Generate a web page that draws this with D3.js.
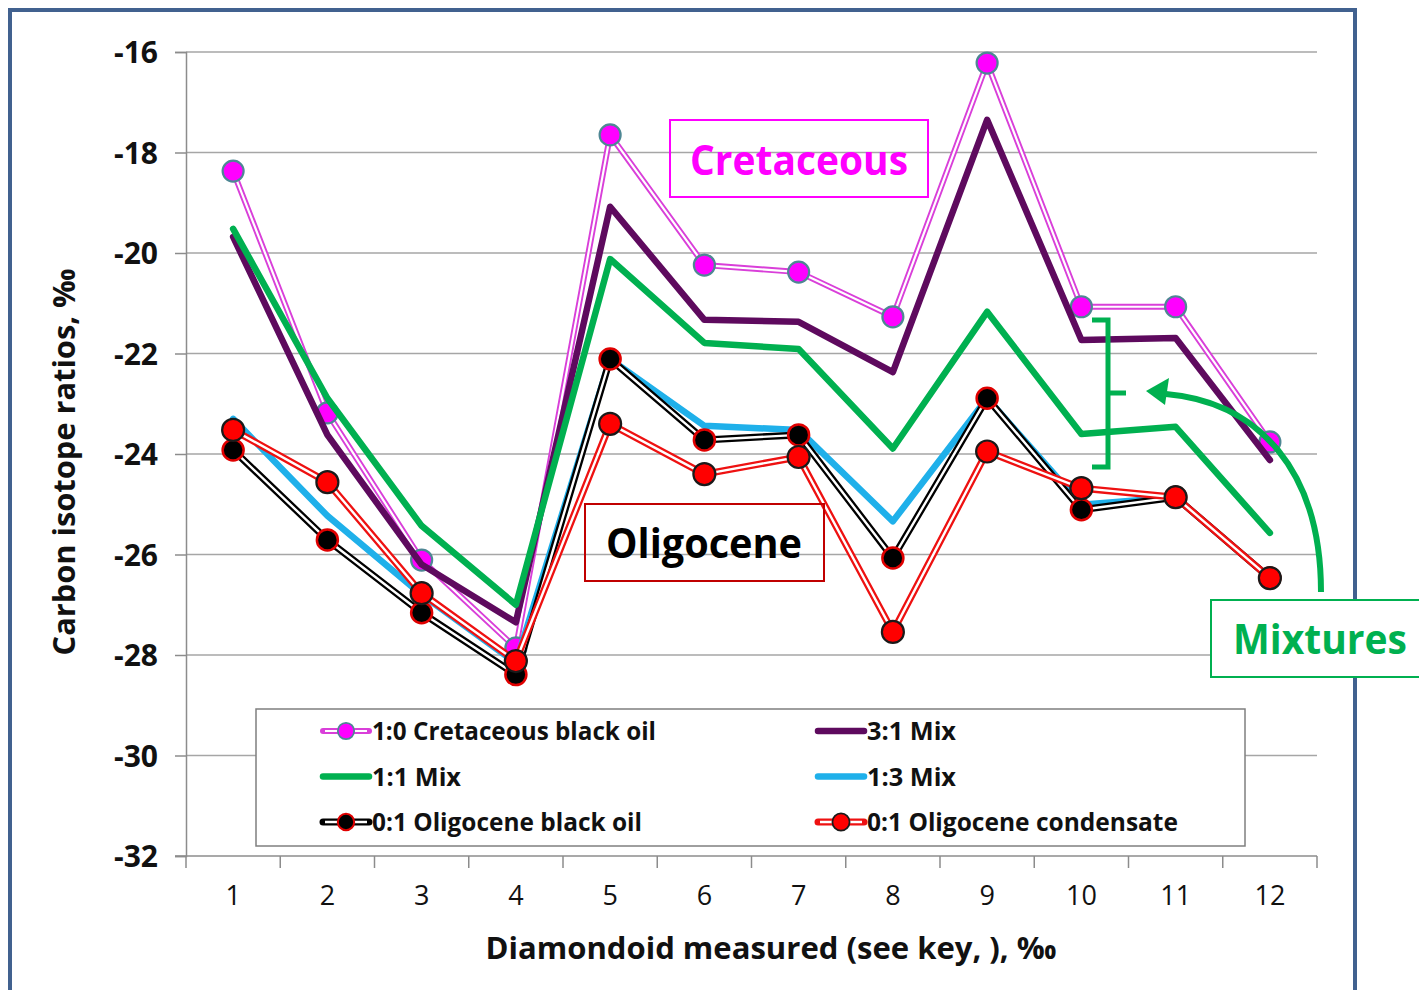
<!DOCTYPE html>
<html><head><meta charset="utf-8">
<script src="https://cdn.jsdelivr.net/npm/d3@7"></script>
<style>body{margin:0;background:#fff}svg{display:block}</style>
</head><body>
<svg id="chart" width="1419" height="990"></svg>
<script>
// ---------------- DATA ----------------
const categories = [1, 2, 3, 4, 5, 6, 7, 8, 9, 10, 11, 12];
const yTickValues = [-16, -18, -20, -22, -24, -26, -28, -30, -32];
const seriesNames = ["1:0 Cretaceous black oil", "3:1 Mix", "1:1 Mix", "1:3 Mix",
                     "0:1 Oligocene black oil", "0:1 Oligocene condensate"];
const cretaceousBlackOil   = [-18.37, -23.18, -26.11, -27.86, -17.65, -20.24, -20.38, -21.27, -16.22, -21.07, -21.07, -23.76];
const mix3to1              = [-19.68, -23.62, -26.20, -27.35, -19.08, -21.33, -21.37, -22.37, -17.35, -21.73, -21.69, -24.12];
const mix1to1              = [-19.52, -22.89, -25.43, -27.00, -20.12, -21.79, -21.91, -23.89, -21.17, -23.60, -23.46, -25.57];
const mix1to3              = [-23.30, -25.23, -26.80, -28.16, -22.11, -23.44, -23.52, -25.34, -22.89, -25.01, -24.86, -26.47];
const oligoceneBlackOil    = [-23.92, -25.71, -27.16, -28.39, -22.11, -23.72, -23.62, -26.07, -22.89, -25.11, -24.86, -26.47];
const oligoceneCondensate  = [-23.52, -24.56, -26.77, -28.12, -23.40, -24.40, -24.06, -27.54, -23.95, -24.68, -24.86, -26.47];
const xTitle = "Diamondoid measured (see key, ), ‰";
const yTitle = "Carbon isotope ratios, ‰";

// ---------------- STYLES ----------------
const styles = [
  {outer: "#d93fd9", outerW: 6, inner: "#ffffff", innerW: 2.2, marker: {fill: "#ff00ff", stroke: "#4e8794", sw: 2.2, r: 10.5}},
  {outer: "#5e0a5e", outerW: 6.5},
  {outer: "#00b050", outerW: 6.5},
  {outer: "#1fb0ea", outerW: 6.5},
  {outer: "#000000", outerW: 7, inner: "#ffffff", innerW: 2.4, marker: {fill: "#000000", stroke: "#e00000", sw: 2.5, r: 10.5}},
  {outer: "#ee1111", outerW: 7, inner: "#ffffff", innerW: 2.4, marker: {fill: "#ff0000", stroke: "#1a1a1a", sw: 2.2, r: 11}}
];
const seriesValues = [cretaceousBlackOil, mix3to1, mix1to1, mix1to3, oligoceneBlackOil, oligoceneCondensate];
const series = seriesNames.map((n, i) => ({name: n, values: seriesValues[i], style: styles[i]}));

const FONT = "'Open Sans', 'Noto Sans', sans-serif";
const svg = d3.select("#chart");
const plot = {left: 186, right: 1317, top: 52, bottom: 856};

// outer frame
svg.append("rect").attr("x", 10).attr("y", 10).attr("width", 1345).attr("height", 1000)
  .attr("fill", "none").attr("stroke", "#41618f").attr("stroke-width", 4);

const x = d3.scaleBand().domain(categories).range([plot.left, plot.right]).paddingInner(0).paddingOuter(0);
const y = d3.scaleLinear().domain([-32, -16]).range([plot.bottom, plot.top]);
const cx = c => x(c) + x.bandwidth() / 2;

// gridlines
svg.append("g").selectAll("line").data(yTickValues.filter(v => v !== -32)).join("line")
  .attr("x1", plot.left).attr("x2", plot.right)
  .attr("y1", d => y(d)).attr("y2", d => y(d))
  .attr("stroke", "#a6a6a6").attr("stroke-width", 1.5);

// y axis
const yAxis = svg.append("g").attr("transform", `translate(${plot.left},0)`)
  .call(d3.axisLeft(y).tickValues(yTickValues).tickSize(11).tickPadding(17).tickFormat(d3.format("d")));
yAxis.select(".domain").attr("stroke", "#8c8c8c").attr("stroke-width", 1.5);
yAxis.selectAll(".tick line").attr("stroke", "#8c8c8c").attr("stroke-width", 1.5);
yAxis.selectAll(".tick text").attr("font-family", FONT).attr("font-size", 30).attr("font-weight", "bold")
  .attr("fill", "#111").attr("dy", "0.36em").text(d => d3.format("d")(d).replace("−", "-"));

// x axis
const xAxis = svg.append("g").attr("transform", `translate(0,${plot.bottom})`)
  .call(d3.axisBottom(x).tickSize(0).tickPadding(30));
xAxis.select(".domain").remove();
svg.append("line").attr("x1", plot.left - 11).attr("x2", plot.right).attr("y1", plot.bottom).attr("y2", plot.bottom)
  .attr("stroke", "#8c8c8c").attr("stroke-width", 1.5);
const bounds = categories.map(c => x(c)).concat([plot.right]);
svg.append("g").selectAll("line").data(bounds).join("line")
  .attr("x1", d => d).attr("x2", d => d).attr("y1", plot.bottom).attr("y2", plot.bottom + 12)
  .attr("stroke", "#8c8c8c").attr("stroke-width", 1.5);
xAxis.selectAll(".tick text").attr("font-family", FONT).attr("font-size", 27).attr("fill", "#111");

// axis titles
svg.append("text").attr("x", 771).attr("y", 959).attr("text-anchor", "middle")
  .attr("font-family", FONT).attr("font-size", 30).attr("font-weight", "bold").attr("fill", "#111")
  .attr("textLength", 571).attr("lengthAdjust", "spacingAndGlyphs").text(xTitle);
svg.append("text").attr("transform", "translate(75,462) rotate(-90)").attr("text-anchor", "middle")
  .attr("font-family", FONT).attr("font-size", 30).attr("font-weight", "bold").attr("fill", "#111")
  .attr("textLength", 387).attr("lengthAdjust", "spacingAndGlyphs").text(yTitle);

// series
const line = d3.line().x((d, i) => cx(categories[i])).y(d => y(d));
series.forEach(s => {
  const g = svg.append("g");
  g.append("path").attr("d", line(s.values)).attr("fill", "none")
    .attr("stroke", s.style.outer).attr("stroke-width", s.style.outerW)
    .attr("stroke-linejoin", "round").attr("stroke-linecap", "round");
  if (s.style.inner) {
    g.append("path").attr("d", line(s.values)).attr("fill", "none")
      .attr("stroke", s.style.inner).attr("stroke-width", s.style.innerW)
      .attr("stroke-linejoin", "round");
  }
  if (s.style.marker) {
    const m = s.style.marker;
    g.selectAll("circle").data(s.values).join("circle")
      .attr("cx", (d, i) => cx(categories[i])).attr("cy", d => y(d)).attr("r", m.r)
      .attr("fill", m.fill).attr("stroke", m.stroke).attr("stroke-width", m.sw);
  }
});

// legend
const legend = svg.append("g");
legend.append("rect").attr("x", 256).attr("y", 709).attr("width", 989).attr("height", 137)
  .attr("fill", "#fff").attr("stroke", "#7f7f7f").attr("stroke-width", 1.5);
const legendW = [284, 89, 89, 89, 270, 311];
series.forEach((s, i) => {
  const col = i % 2, row = Math.floor(i / 2);
  const lx = col === 0 ? 323 : 818;
  const ly = 731 + row * 45.5;
  const g = legend.append("g");
  g.append("line").attr("x1", lx).attr("x2", lx + 46).attr("y1", ly).attr("y2", ly)
    .attr("stroke", s.style.outer).attr("stroke-width", s.style.outerW).attr("stroke-linecap", "round");
  if (s.style.inner) {
    g.append("line").attr("x1", lx + 2).attr("x2", lx + 44).attr("y1", ly).attr("y2", ly)
      .attr("stroke", s.style.inner).attr("stroke-width", s.style.innerW);
  }
  if (s.style.marker) {
    const m = s.style.marker;
    g.append("circle").attr("cx", lx + 23).attr("cy", ly).attr("r", m.r * 0.78)
      .attr("fill", m.fill).attr("stroke", m.stroke).attr("stroke-width", m.sw * 0.8);
  }
  g.append("text").attr("x", lx + 49).attr("y", ly).attr("dy", "0.36em")
    .attr("font-family", FONT).attr("font-size", 25).attr("font-weight", "bold").attr("fill", "#111")
    .attr("textLength", legendW[i]).attr("lengthAdjust", "spacingAndGlyphs").text(s.name);
});

// annotations
// Cretaceous
svg.append("rect").attr("x", 670).attr("y", 120).attr("width", 258).attr("height", 77)
  .attr("fill", "none").attr("stroke", "#ff00ff").attr("stroke-width", 2);
svg.append("text").attr("x", 799).attr("y", 175).attr("text-anchor", "middle")
  .attr("font-family", FONT).attr("font-size", 42).attr("font-weight", "bold").attr("fill", "#ff00ff")
  .attr("textLength", 218).attr("lengthAdjust", "spacingAndGlyphs").text("Cretaceous");
// Oligocene
svg.append("rect").attr("x", 585).attr("y", 504).attr("width", 239).attr("height", 77)
  .attr("fill", "none").attr("stroke", "#c00000").attr("stroke-width", 2);
svg.append("text").attr("x", 704).attr("y", 558).attr("text-anchor", "middle")
  .attr("font-family", FONT).attr("font-size", 42).attr("font-weight", "bold").attr("fill", "#000")
  .attr("textLength", 196).attr("lengthAdjust", "spacingAndGlyphs").text("Oligocene");
// Mixtures bracket + arrow
svg.append("path").attr("d", "M1092,320 L1108,320 L1108,467 L1092,467 M1108,393 L1126,393")
  .attr("fill", "none").attr("stroke", "#00b050").attr("stroke-width", 5);
svg.append("path").attr("d", "M1321,592 C1321,470 1258,402 1166,394")
  .attr("fill", "none").attr("stroke", "#00b050").attr("stroke-width", 6);
svg.append("polygon").attr("points", "1146,391 1169,378 1165,405").attr("fill", "#00b050");
svg.append("rect").attr("x", 1211).attr("y", 600).attr("width", 230).attr("height", 77)
  .attr("fill", "#fff").attr("stroke", "#00b050").attr("stroke-width", 2);
svg.append("text").attr("x", 1320).attr("y", 654).attr("text-anchor", "middle")
  .attr("font-family", FONT).attr("font-size", 42).attr("font-weight", "bold").attr("fill", "#00b050")
  .attr("textLength", 174).attr("lengthAdjust", "spacingAndGlyphs").text("Mixtures");
</script>
</body></html>
